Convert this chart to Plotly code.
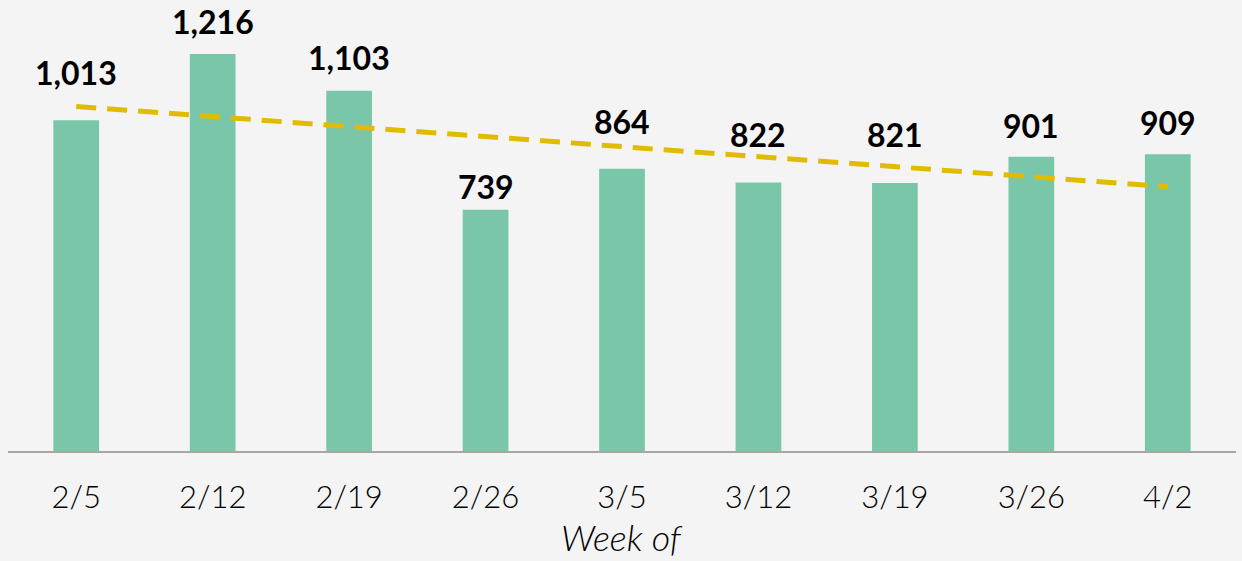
import numpy as np
import plotly.graph_objects as go

weeks = ["2/5", "2/12", "2/19", "2/26", "3/5", "3/12", "3/19", "3/26", "4/2"]
counts = [1013, 1216, 1103, 739, 864, 822, 821, 901, 909]
label_shift_px = [48, 32, 33, 23, 47, 48, 48, 31, 32]

idx = np.arange(len(counts))
slope, intercept = np.polyfit(idx, counts, 1)
trend = slope * idx + intercept

fig = go.Figure()
fig.add_trace(go.Bar(
    x=weeks, y=counts, width=0.335,
    marker=dict(color="#7ac6a9", line=dict(width=0)),
    hoverinfo="x+y",
))
fig.add_trace(go.Scatter(
    x=weeks, y=trend, mode="lines",
    line=dict(color="#e1bb00", width=5, dash="20px,11px"),
    hoverinfo="skip",
))

for w, v, s in zip(weeks, counts, label_shift_px):
    fig.add_annotation(
        x=w, y=v, yshift=s, text=f"{v:,}", showarrow=False,
        yanchor="middle", xanchor="center",
        font=dict(family="Lato", size=32, color="#000000", weight="bold"),
    )

fig.add_annotation(
    x=0.5, xref="paper", y=-0.2439, yref="paper", yanchor="bottom",
    text="<i>Week of</i>", showarrow=False,
    font=dict(family="Lato", size=36, color="#000000", weight=300),
)

fig.update_layout(
    width=1242, height=561,
    paper_bgcolor="#f4f4f4", plot_bgcolor="#f4f4f4",
    margin=dict(l=8, r=6, t=0, b=110),
    showlegend=False,
    bargap=0.66,
    xaxis=dict(
        showgrid=False, showline=True, linecolor="#a6a6a6", linewidth=2,
        ticks="", tickfont=dict(family="Lato", size=31, color="#000000", weight=300),
        ticklabelstandoff=18,
    ),
    yaxis=dict(range=[0, 1381], visible=False, showgrid=False, zeroline=False),
)

fig.write_html(
    "out.html",
    config={"displayModeBar": False},
    post_script="document.body.style.margin='0';document.body.style.background='#f4f4f4';document.body.style.overflow='hidden';",
)
